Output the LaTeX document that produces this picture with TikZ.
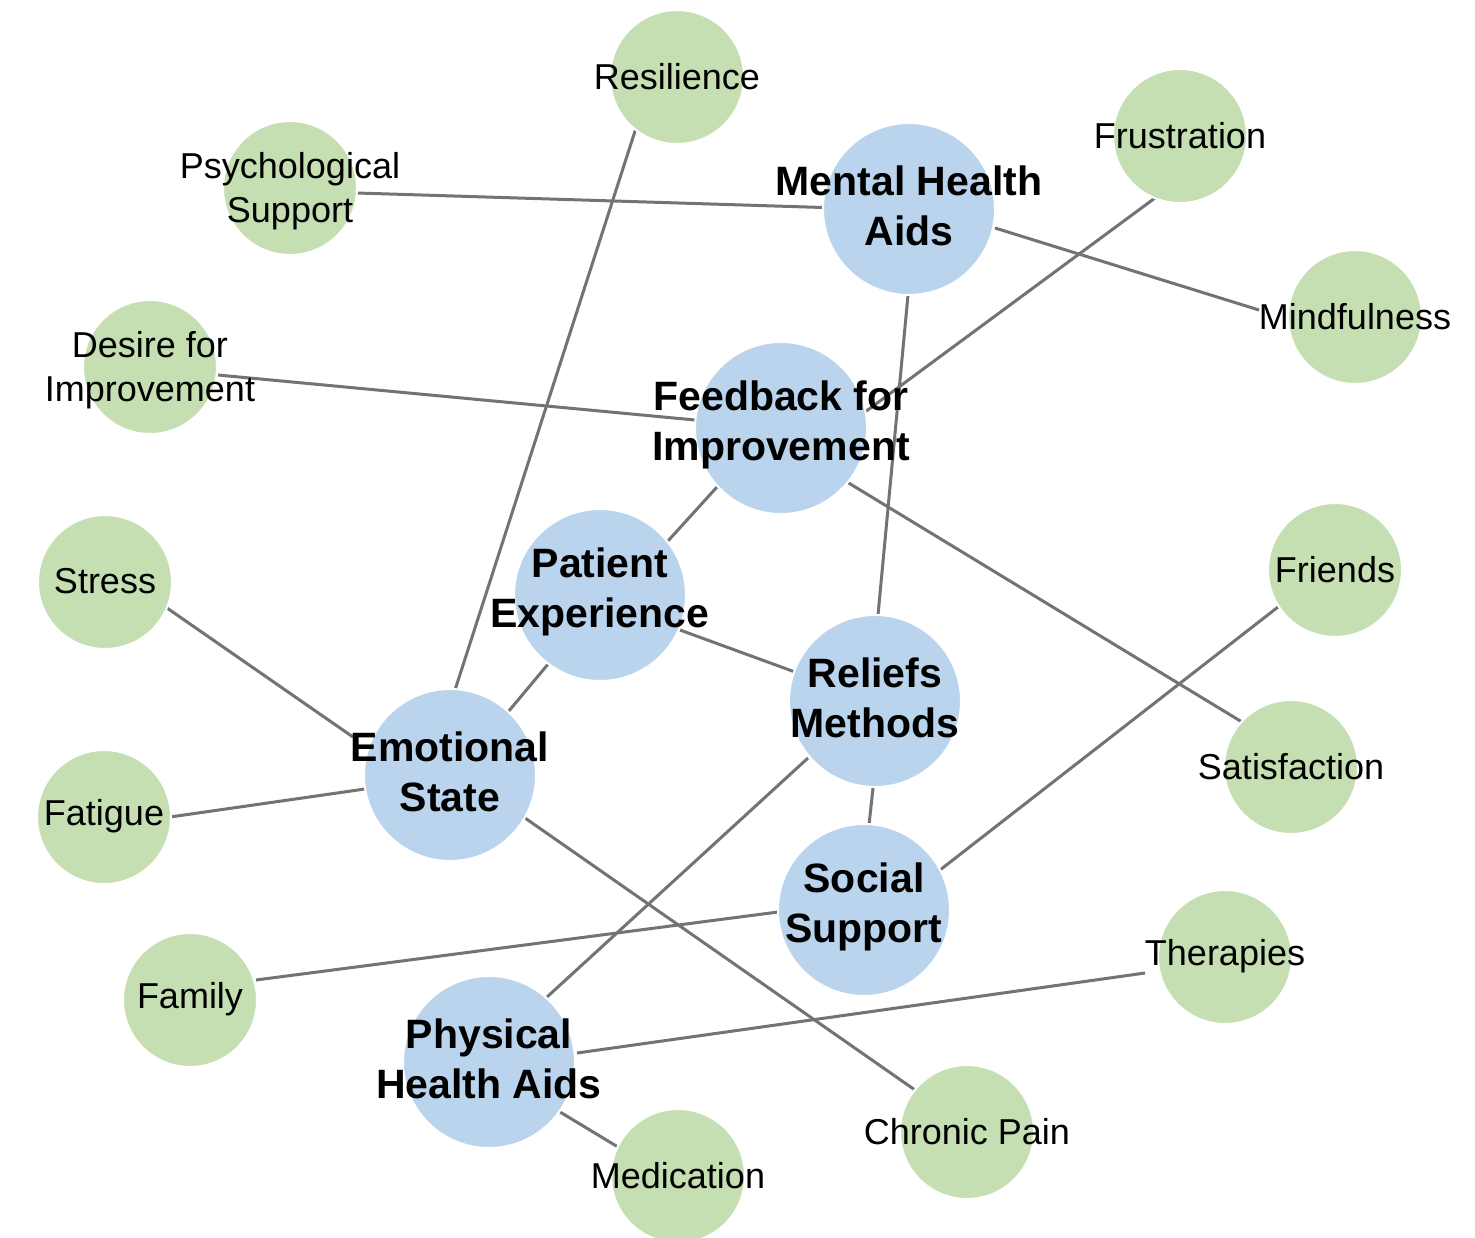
\documentclass[tikz,border=0pt]{standalone}
\usepackage{fontspec}
\setmainfont{Liberation Sans}
\usetikzlibrary{calc}
\pgfdeclarelayer{back}
\pgfdeclarelayer{bg}
\pgfsetlayers{back,bg,main}
\definecolor{bluefill}{HTML}{B9D4EC}
\definecolor{greenfill}{HTML}{C5DFB3}
\definecolor{edgegray}{HTML}{737373}
\tikzset{
  bluenode/.style={circle, fill=bluefill, draw=white, line width=2pt, minimum size=172pt, inner sep=0pt},
  greennode/.style={circle, fill=greenfill, draw=white, line width=2pt, minimum size=134pt, inner sep=0pt},
  bluetext/.style={align=center, font=\fontsize{41}{50}\selectfont\bfseries, inner sep=0pt, text=black, yshift=3.5pt},
  greentext/.style={align=center, font=\fontsize{36}{44}\selectfont, inner sep=0pt, text=black, yshift=0.5pt},
  greentwo/.style={greentext, yshift=-3.5pt},
  edge/.style={draw=edgegray, line width=3pt}
}
\begin{document}
\begin{tikzpicture}[x=1pt,y=-1pt]
\begin{pgfonlayer}{back}
\fill[white] (0,0) rectangle (1475,1237);
\end{pgfonlayer}
\useasboundingbox (0,0) rectangle (1475,1237);
% blue nodes
\node[bluenode] (mha) at (909,209) {};
\node[bluenode] (fb) at (781,428) {};
\node[bluenode] (pe) at (600,595) {};
\node[bluenode] (rm) at (875,701) {};
\node[bluenode] (es) at (450,775) {};
\node[bluenode] (ss) at (864,910) {};
\node[bluenode] (pha) at (489,1062) {};
% green nodes
\node[greennode] (res) at (677,77) {};
\node[greennode] (psy) at (290,188) {};
\node[greennode] (fru) at (1180,136) {};
\node[greennode] (mind) at (1355,317) {};
\node[greennode] (dfi) at (150,367) {};
\node[greennode] (str) at (105,582) {};
\node[greennode] (fri) at (1335,570) {};
\node[greennode] (sat) at (1291,767) {};
\node[greennode] (fat) at (104,817) {};
\node[greennode] (fam) at (190,1000) {};
\node[greennode] (the) at (1225,957) {};
\node[greennode] (cp) at (967,1132) {};
\node[greennode] (med) at (678,1176) {};
% edges
\begin{pgfonlayer}{bg}
\draw[edge] ($(psy)+(67,5)$) -- ($(mha)+(-86,-1.5)$);
\draw[edge] ($(mha)+(86,19)$) -- ($(mind)+(-96,-7)$);
\draw[edge] ($(mha)+(-1,86)$) -- ($(rm)+(3,-86)$);
\draw[edge] ($(res)+(-40,48)$) -- ($(es)+(5,-85)$);
\draw[edge] ($(fru)+(-25,62)$) -- ($(fb)+(84,-16)$);
\draw[edge] ($(dfi)+(68,8)$) -- ($(fb)+(-86,-8)$);
\draw[edge] ($(fb)+(-64,59)$) -- ($(pe)+(67,-53)$);
\draw[edge] ($(fb)+(66,54)$) -- ($(sat)+(-49,-45)$);
\draw[edge] ($(pe)+(-51,68)$) -- ($(es)+(58,-63)$);
\draw[edge] ($(pe)+(80,35)$) -- ($(rm)+(-80,-29)$);
\draw[edge] ($(str)+(62,26)$) -- ($(es)+(-97,-38)$);
\draw[edge] ($(fat)+(66,0)$) -- ($(es)+(-85,14)$);
\draw[edge] ($(es)+(75,43)$) -- ($(cp)+(-52,-42)$);
\draw[edge] ($(rm)+(-2,87)$) -- ($(ss)+(5,-85)$);
\draw[edge] ($(rm)+(-67,57)$) -- ($(pha)+(58,-65)$);
\draw[edge] ($(ss)+(76,-40)$) -- ($(fri)+(-57,37)$);
\draw[edge] ($(ss)+(-86,2)$) -- ($(fam)+(66,-20)$);
\draw[edge] ($(pha)+(88,-9)$) -- ($(the)+(-80,16)$);
\draw[edge] ($(pha)+(71,50)$) -- ($(med)+(-60,-29)$);
\end{pgfonlayer}
% labels
\node[bluetext] (mha-t) at (mha) {Mental Health\\Aids};
\node[bluetext] (fb-t) at (fb) {Feedback for\\Improvement};
\node[bluetext] (pe-t) at (pe) {Patient\\Experience};
\node[bluetext] (rm-t) at (rm) {Reliefs\\Methods};
\node[bluetext] (es-t) at (es) {Emotional\\State};
\node[bluetext] (ss-t) at (ss) {Social\\Support};
\node[bluetext] (pha-t) at (pha) {Physical\\Health Aids};
\node[greentext] (res-t) at (res) {Resilience};
\node[greentwo] (psy-t) at (psy) {Psychological\\Support};
\node[greentext] (fru-t) at (fru) {Frustration};
\node[greentext] (mind-t) at (mind) {Mindfulness};
\node[greentwo] (dfi-t) at (dfi) {Desire for\\Improvement};
\node[greentext] (str-t) at (str) {Stress};
\node[greentext] (fri-t) at (fri) {Friends};
\node[greentext] (sat-t) at (sat) {Satisfaction};
\node[greentext] (fat-t) at (fat) {Fatigue};
\node[greentext] (fam-t) at (fam) {Family};
\node[greentext] (the-t) at (the) {Therapies};
\node[greentext] (cp-t) at (cp) {Chronic Pain};
\node[greentext] (med-t) at (med) {Medication};
\end{tikzpicture}
\end{document}
